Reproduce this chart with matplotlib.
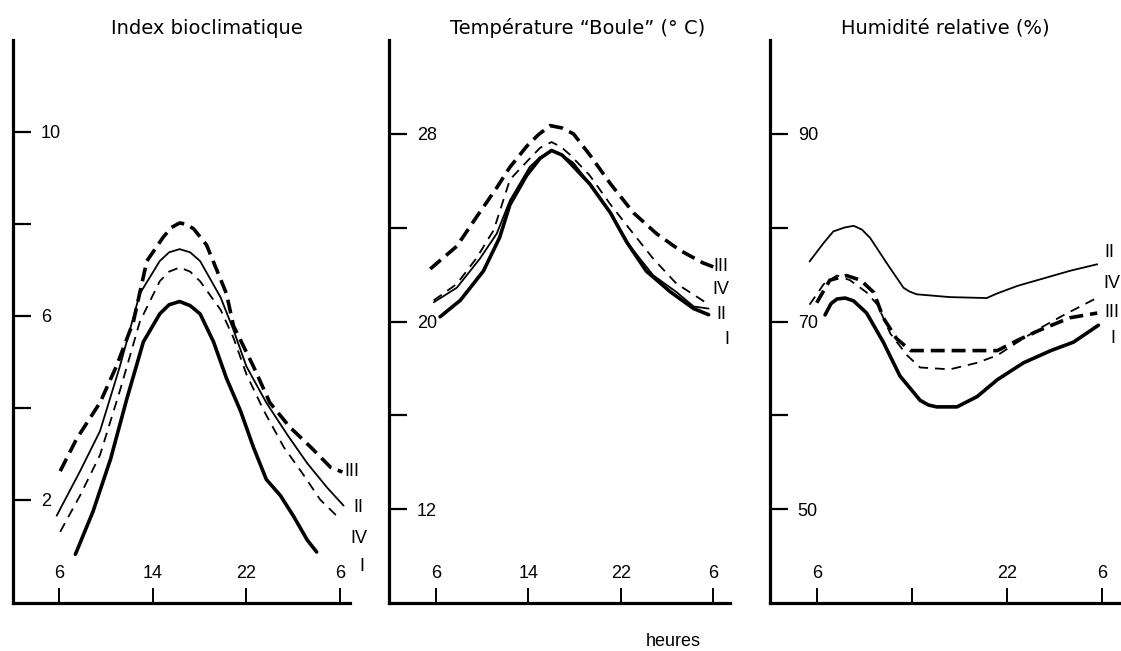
import matplotlib
matplotlib.use("Agg")
import matplotlib.pyplot as plt

plt.rcParams['lines.scale_dashes'] = False
plt.rcParams['font.family'] = ['Liberation Sans', 'DejaVu Sans']

# ---------------- data ----------------
titles = ["Index bioclimatique", "Température \u201cBoule\u201d (° C)", "Humidité relative (%)"]
xlabel_text = "heures"
series_names = ["I", "II", "III", "IV"]
x_ticks = [6, 14, 22, 30]
x_ticklabels_12 = ["6", "14", "22", "6"]
x_ticklabels_3 = ["6", "", "22", "6"]

# Panel 1: Index bioclimatique
p1_I_h = [7.4, 8.9, 10.4, 11.8, 13.2, 14.6, 15.4, 16.3, 17.2, 18.05, 19.2, 20.3, 21.5, 22.6, 23.7, 24.9, 26.0, 27.2, 28.0]
p1_I_v = [0.81, 1.74, 2.88, 4.20, 5.43, 6.04, 6.24, 6.31, 6.22, 6.04, 5.43, 4.64, 3.93, 3.14, 2.44, 2.09, 1.65, 1.12, 0.86]
p1_II_h = [5.8, 7.8, 9.5, 11.2, 12.9, 14.6, 15.4, 16.3, 17.2, 18.05, 19.8, 20.9, 22.0, 23.7, 25.5, 27.2, 28.9, 30.3]
p1_II_v = [1.65, 2.62, 3.49, 4.90, 6.48, 7.19, 7.38, 7.45, 7.38, 7.19, 6.40, 5.69, 4.90, 4.11, 3.41, 2.79, 2.26, 1.87]
p1_III_h = [6.1, 7.5, 9.5, 10.9, 12.35, 13.5, 14.9, 15.6, 16.3, 16.9, 17.5, 18.6, 20.3, 20.9, 22.6, 24.0, 25.7, 27.5, 29.2, 30.2]
p1_III_v = [2.62, 3.32, 4.11, 4.90, 5.87, 7.19, 7.71, 7.92, 8.02, 7.99, 7.89, 7.54, 6.48, 5.78, 4.90, 4.11, 3.58, 3.14, 2.70, 2.60]
p1_IV_h = [6.1, 7.8, 9.5, 11.2, 12.9, 14.6, 15.4, 16.3, 17.2, 18.05, 19.8, 20.9, 22.0, 23.5, 25.2, 26.9, 28.3, 29.7]
p1_IV_v = [1.30, 2.09, 2.97, 4.37, 5.87, 6.75, 6.96, 7.05, 6.96, 6.75, 6.13, 5.52, 4.73, 3.93, 3.14, 2.53, 2.00, 1.65]

# Panel 2: Température "Boule"
p2_I_h = [6.35, 8.1, 10.1, 11.5, 12.4, 13.85, 15.0, 16.0, 16.9, 17.6, 19.3, 21.1, 22.5, 24.2, 26.3, 28.3, 29.6]
p2_I_v = [20.2, 20.9, 22.15, 23.57, 24.98, 26.23, 26.95, 27.29, 27.10, 26.76, 25.87, 24.63, 23.39, 22.15, 21.26, 20.55, 20.29]
p2_II_h = [5.8, 7.8, 9.8, 11.25, 12.4, 14.1, 15.0, 16.0, 16.9, 17.9, 19.3, 21.1, 22.8, 24.8, 26.8, 28.3, 29.6]
p2_II_v = [20.82, 21.44, 22.68, 23.74, 25.16, 26.58, 27.0, 27.29, 27.10, 26.76, 25.87, 24.63, 23.21, 21.97, 21.26, 20.64, 20.55]
p2_III_h = [5.5, 7.8, 9.5, 11.25, 12.4, 13.85, 14.9, 15.9, 16.9, 17.9, 19.3, 21.1, 23.1, 25.1, 27.1, 29.1, 30.0]
p2_III_v = [22.24, 23.21, 24.45, 25.70, 26.58, 27.47, 27.98, 28.35, 28.25, 28.0, 27.11, 25.87, 24.63, 23.74, 23.04, 22.50, 22.33]
p2_IV_h = [5.8, 7.8, 9.5, 11.0, 12.4, 14.1, 15.0, 16.0, 16.8, 17.6, 19.3, 21.1, 22.8, 24.8, 26.8, 29.6]
p2_IV_v = [20.9, 21.6, 22.7, 23.9, 26.05, 26.94, 27.40, 27.65, 27.45, 27.11, 26.23, 24.99, 23.92, 22.68, 21.62, 20.73]

# Panel 3: Humidité relative
p3_I_h = [6.7, 7.2, 7.7, 8.4, 9.1, 10.2, 11.6, 13.0, 14.7, 15.4, 16.1, 17.8, 19.5, 21.2, 23.4, 25.7, 27.6, 29.7]
p3_I_v = [70.7, 71.9, 72.4, 72.5, 72.2, 70.9, 67.8, 64.2, 61.6, 61.1, 60.9, 60.9, 62.0, 63.8, 65.6, 66.9, 67.8, 69.6]
p3_II_h = [5.4, 6.6, 7.4, 8.3, 9.1, 9.8, 10.5, 11.9, 13.3, 13.8, 14.4, 17.2, 20.3, 21.2, 22.9, 25.1, 27.3, 29.6]
p3_II_v = [76.4, 78.4, 79.6, 80.0, 80.2, 79.8, 78.9, 76.2, 73.6, 73.2, 72.9, 72.6, 72.5, 73.0, 73.8, 74.6, 75.4, 76.1]
p3_III_h = [6.0, 7.1, 8.5, 9.7, 10.8, 11.6, 12.7, 13.9, 17.2, 21.2, 22.9, 24.8, 27.3, 29.6]
p3_III_v = [72.0, 74.4, 74.9, 74.4, 73.1, 70.4, 68.2, 66.9, 66.9, 66.9, 68.0, 69.1, 70.4, 70.9]
p3_IV_h = [5.4, 6.6, 7.7, 8.8, 10.2, 11.1, 12.2, 13.6, 14.7, 17.2, 19.5, 21.2, 22.9, 24.8, 26.8, 29.7]
p3_IV_v = [71.8, 74.0, 74.9, 74.4, 73.1, 71.8, 68.7, 66.4, 65.1, 64.9, 65.6, 66.4, 67.8, 69.3, 70.7, 72.6]

p1_yticks = [2, 4, 6, 8, 10]
p1_ylabels = ["2", "", "6", "", "10"]
p2_yticks = [12, 16, 20, 24, 28]
p2_ylabels = ["12", "", "20", "", "28"]
p3_yticks = [50, 60, 70, 80, 90]
p3_ylabels = ["50", "", "70", "", "90"]

# ---------------- styling / layout ----------------
W, H = 1121, 651
fig = plt.figure(figsize=(W / 100, H / 100), dpi=100)

styles = {
    "I":   dict(lw=2.6, dashes=None),
    "II":  dict(lw=1.3, dashes=None),
    "III": dict(lw=2.6, dashes=(10, 5)),
    "IV":  dict(lw=1.3, dashes=(7, 5)),
}

panels = [
    dict(left=13, right=350, xlim=(2.07, 30.85), ylim=(-0.25, 12.0),
         yticks=p1_yticks, ylabels=p1_ylabels, xlabels=x_ticklabels_12,
         data={"I": (p1_I_h, p1_I_v), "II": (p1_II_h, p1_II_v),
               "III": (p1_III_h, p1_III_v), "IV": (p1_IV_h, p1_IV_v)},
         lab={"III": (31.0, 2.62), "II": (31.6, 1.82), "IV": (31.6, 1.16), "I": (31.9, 0.55)},
         title_x=207),
    dict(left=389, right=730, xlim=(1.93, 31.45), ylim=(8.0, 32.0),
         yticks=p2_yticks, ylabels=p2_ylabels, xlabels=x_ticklabels_12,
         data={"I": (p2_I_h, p2_I_v), "II": (p2_II_h, p2_II_v),
               "III": (p2_III_h, p2_III_v), "IV": (p2_IV_h, p2_IV_v)},
         lab={"III": (30.7, 22.33), "IV": (30.7, 21.35), "II": (30.7, 20.29), "I": (31.2, 19.22)},
         title_x=578),
    dict(left=770, right=1121, xlim=(2.07, 31.6), ylim=(40.0, 100.0),
         yticks=p3_yticks, ylabels=p3_ylabels, xlabels=x_ticklabels_3,
         data={"I": (p3_I_h, p3_I_v), "II": (p3_II_h, p3_II_v),
               "III": (p3_III_h, p3_III_v), "IV": (p3_IV_h, p3_IV_v)},
         lab={"II": (30.6, 77.4), "IV": (30.8, 74.1), "III": (30.8, 71.0), "I": (30.9, 68.2)},
         title_x=945),
]

top_px, bottom_px = 40, 603

for i, p in enumerate(panels):
    ax = fig.add_axes([p["left"] / W, 1 - bottom_px / H,
                       (p["right"] - p["left"]) / W, (bottom_px - top_px) / H])
    ax.set_xlim(*p["xlim"])
    ax.set_ylim(*p["ylim"])
    for s in ("top", "right"):
        ax.spines[s].set_visible(False)
    for s in ("left", "bottom"):
        ax.spines[s].set_linewidth(2.3)
        ax.spines[s].set_color("black")
    ax.patch.set_alpha(0)

    for name in series_names:
        hx, vy = p["data"][name]
        st = styles[name]
        line, = ax.plot(hx, vy, color="black", lw=st["lw"], solid_capstyle="round",
                        solid_joinstyle="round", dash_capstyle="butt")
        if st["dashes"] is not None:
            line.set_dashes(st["dashes"])
        lx, ly = p["lab"][name]
        ax.text(lx, ly, name, ha="center", va="center", fontsize=13,
                clip_on=False, color="black")

    ax.set_yticks(p["yticks"])
    ax.set_yticklabels(p["ylabels"])
    ax.tick_params(axis="y", direction="in", length=13, width=1.6, pad=-20,
                   labelsize=13, color="black")
    for t in ax.get_yticklabels():
        t.set_horizontalalignment("left")

    ax.set_xticks(x_ticks)
    ax.set_xticklabels(p["xlabels"])
    ax.tick_params(axis="x", direction="in", length=11, width=1.4, pad=-15,
                   labelsize=13, color="black")
    for t in ax.get_xticklabels():
        t.set_verticalalignment("bottom")

    fig.text(p["title_x"] / W, 1 - 28 / H, titles[i], ha="center", va="center",
             fontsize=14, family="DejaVu Sans")

fig.text(673 / W, 1 - 642 / H, xlabel_text, ha="center", va="center", fontsize=13)

fig.savefig("out.png", dpi=100, facecolor="white")
